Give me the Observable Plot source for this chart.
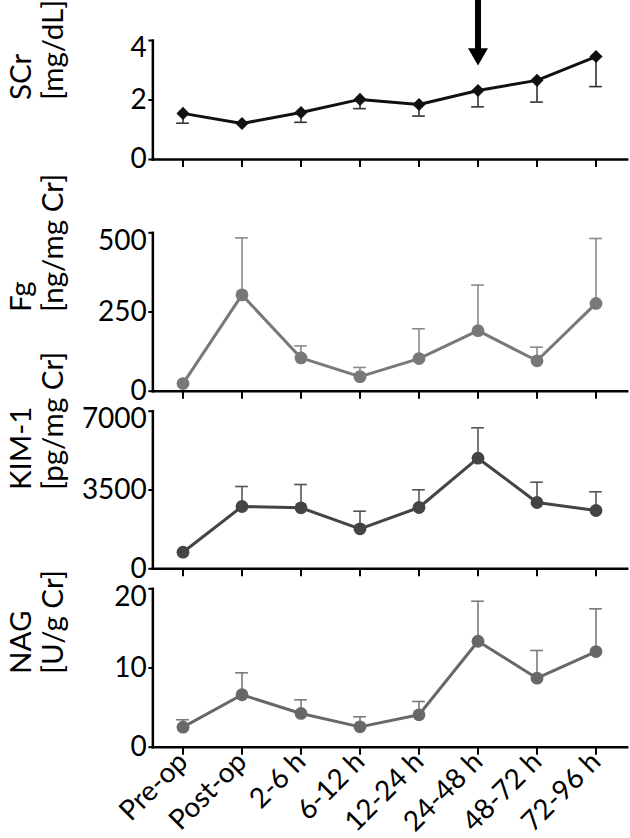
<!DOCTYPE html>
<html><head><meta charset="utf-8">
<script src="https://cdn.jsdelivr.net/npm/d3@7"></script>
<script src="https://cdn.jsdelivr.net/npm/@observablehq/plot@0.6"></script>
<style>
body{margin:0;background:#fff;}
#wrap{position:relative;width:630px;height:838px;overflow:hidden;font-family:Lato,sans-serif;background:#fff;}
#wrap svg{position:absolute;left:0;overflow:visible;background:transparent;}
</style></head><body><div id="wrap"></div>
<script>
const timepoints = ["Pre-op","Post-op","2-6 h","6-12 h","12-24 h","24-48 h","48-72 h","72-96 h"];

const scrMean  = [1.55, 1.21, 1.58, 2.02, 1.85, 2.32, 2.66, 3.46];
const scrLower = [1.22, null, 1.25, 1.71, 1.46, 1.77, 1.93, 2.45];
const fgMean   = [24, 304, 105, 46, 103, 191, 96, 277];
const fgUpper  = [null, 484, 143, 75, 197, 335, 139, 482];
const kimMean  = [737, 2767, 2709, 1777, 2723, 4912, 2945, 2590];
const kimUpper = [null, 3655, 3744, 2558, 3509, 6263, 3846, 3420];
const nagMean  = [2.53, 6.62, 4.26, 2.57, 4.09, 13.38, 8.71, 12.08];
const nagUpper = [3.46, 9.39, 5.98, 3.84, 5.77, 18.43, 12.21, 17.47];

const scrTicks = [0, 2, 4];
const fgTicks  = [0, 250, 500];
const kimTicks = [0, 3500, 7000];
const nagTicks = [0, 10, 20];

const labels = ["SCr\n[mg/dL]", "Fg\n[ng/mg Cr]", "KIM-1\n[pg/mg Cr]", "NAG\n[U/g Cr]"];

// annotation arrow (data units of the SCr panel)
const arrowAt = ["24-48 h"];
const arrowShaft = [5.35, 3.70];
const arrowHead = 3.55;

const wrap = document.getElementById("wrap");
const W = 630, ML = 152.35, MR = 3.35;
const step = (W - ML - MR) / timepoints.length;
const capInset = (step - 13) / 2;
const fmt = d3.format("d");

function panel(o) {
  const rows = timepoints.map((t, i) => ({t, m: o.mean[i], e: o.err[i]}));
  const errRows = rows.filter(d => d.e != null);
  const topTick = o.ticks[o.ticks.length - 1];
  const marks = [
    Plot.ruleX(errRows, {x: "t", y1: "m", y2: "e", stroke: o.errColor, strokeWidth: 1.6}),
    Plot.tickY(errRows, {x: "t", y: "e", stroke: o.errColor, strokeWidth: 1.6, insetLeft: capInset, insetRight: capInset}),
    Plot.line(rows, {x: "t", y: "m", stroke: o.color, strokeWidth: 3}),
    Plot.dot(rows, {x: "t", y: "m", fill: o.color, stroke: "none", r: o.r, symbol: o.symbol}),
    Plot.axisY({ticks: o.ticks, tickSize: 4, tickPadding: 2, fontSize: 28, strokeWidth: 2, label: null,
      tickFormat: d => d === topTick ? "" : fmt(d)}),
    Plot.axisY({ticks: [topTick], tickSize: 0, tickPadding: 6, fontSize: 28, label: null, tickFormat: fmt, dy: 8}),
    o.showLabels
      ? Plot.axisX({tickSize: 8, tickPadding: 2, tickRotate: -45, fontSize: 28, label: null, strokeWidth: 2})
      : Plot.axisX({tickSize: 8, tickFormat: () => "", label: null, strokeWidth: 2}),
    Plot.frame({anchor: "left", strokeWidth: 2.5}),
    Plot.frame({anchor: "bottom", strokeWidth: 2.5}),
    Plot.text([o.label], {text: d => d, frameAnchor: "left", dx: -116, dy: o.labelDy || 0, rotate: -90, fontSize: 29.5, lineHeight: 1.1})
  ].concat(o.extra || []);
  const svg = Plot.plot({
    width: W, height: o.height,
    marginLeft: ML, marginRight: MR, marginTop: o.marginTop, marginBottom: o.marginBottom,
    style: {fontFamily: "Lato, sans-serif", background: "transparent", overflow: "visible", color: "#000"},
    x: {type: "band", domain: timepoints, padding: 0},
    y: {domain: o.domain, nice: false},
    marks
  });
  svg.style.top = o.top + "px";
  wrap.appendChild(svg);
}

panel({top: 0, height: 172, marginTop: 40, marginBottom: 13, domain: [0, 4], ticks: scrTicks,
  label: labels[0], mean: scrMean, err: scrLower, color: "#111", errColor: "#333", symbol: "diamond2", r: 5.9,
  extra: [
    Plot.ruleX(arrowAt, {x: d => d, y1: arrowShaft[0], y2: arrowShaft[1], stroke: "#000", strokeWidth: 6}),
    Plot.dot(arrowAt, {x: d => d, y: arrowHead, symbol: "triangle", rotate: 180, r: 7.4, fill: "#000", stroke: "none"})
  ]});
panel({top: 180, height: 220, marginTop: 52.3, marginBottom: 9.3, domain: [0, 500], ticks: fgTicks,
  label: labels[1], mean: fgMean, err: fgUpper, color: "#787878", errColor: "#8a8a8a", symbol: "circle", r: 6.4});
panel({top: 400, height: 178, marginTop: 10.7, marginBottom: 9.7, domain: [0, 7000], ticks: kimTicks,
  label: labels[2], mean: kimMean, err: kimUpper, color: "#444", errColor: "#555", symbol: "circle", r: 6.4});
panel({top: 578, height: 260, marginTop: 10.3, marginBottom: 91.3, domain: [0, 20], ticks: nagTicks,
  label: labels[3], mean: nagMean, err: nagUpper, color: "#686868", errColor: "#7a7a7a", symbol: "circle", r: 6.4, labelDy: 6,
  showLabels: true});
</script></body></html>
